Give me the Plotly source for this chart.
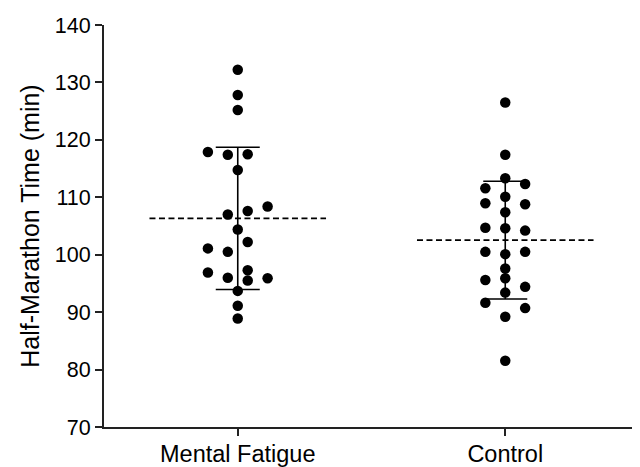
import numpy as np
import plotly.graph_objects as go

categories = ["Mental Fatigue", "Control"]

mental_fatigue = [132.2, 127.8, 125.2, 117.9, 117.4, 117.5, 114.75, 108.4, 107.6, 107.0,
                  104.4, 102.2, 101.1, 100.5, 96.9, 96.0, 97.3, 95.5, 95.9, 93.7, 91.1, 88.9]
# beeswarm column slot of each point (units of one dot step)
mental_fatigue_slot = [0, 0, 0, -3, -1, 1, 0, 3, 1, -1,
                       0, 1, -3, -1, -3, -1, 1, 1, 3, 0, 0, 0]

control = [126.5, 117.4, 113.3, 112.3, 111.56, 110.1, 108.95, 108.8, 107.4, 104.7, 104.6, 104.2,
           100.5, 100.1, 100.5, 97.6, 95.9, 95.6, 94.4, 93.4, 91.65, 90.7, 89.2, 81.55]
control_slot = [0, 0, 0, 2, -2, 0, -2, 2, 0, -2, 0, 2,
                -2, 0, 2, 0, 0, -2, 2, 0, -2, 2, 0, 0]

y_ticks = [70, 80, 90, 100, 110, 120, 130, 140]

groups = [mental_fatigue, control]
slots = [mental_fatigue_slot, control_slot]

STEP = 0.0372      # dot step in x-axis units
MEAN_HALF = 0.33   # half-width of dashed mean line
FONT = "Liberation Sans, Arial, sans-serif"

fig = go.Figure()

means = [float(np.mean(g)) for g in groups]
sds = [float(np.std(g, ddof=1)) for g in groups]

# dashed mean lines
for i, m in enumerate(means):
    fig.add_trace(go.Scatter(
        x=[i - MEAN_HALF, i + MEAN_HALF], y=[m, m], mode="lines",
        line=dict(color="black", width=1.6, dash="6px,3.5px"),
        hoverinfo="skip", showlegend=False))

# SD error bars
fig.add_trace(go.Scatter(
    x=list(range(len(categories))), y=means, mode="markers",
    marker=dict(size=1, color="rgba(0,0,0,0)"),
    error_y=dict(type="data", array=sds, symmetric=True, width=22,
                 thickness=1.6, color="black"),
    showlegend=False))

# dots
for i, (g, s) in enumerate(zip(groups, slots)):
    fig.add_trace(go.Scatter(
        x=[i + k * STEP for k in s], y=g, mode="markers",
        marker=dict(size=10.5, color="black", line=dict(width=0)),
        name=categories[i], showlegend=False))

# page body adds an 8px margin, so the figure is sized/offset to compensate
fig.update_layout(
    width=632, height=459,
    margin=dict(l=96, r=1, t=17, b=40, autoexpand=False),
    paper_bgcolor="white", plot_bgcolor="white",
    font=dict(family=FONT, color="black"),
    xaxis=dict(range=[-0.5, 1.5], tickvals=[0, 1], ticktext=categories,
               automargin=False, ticklabelstandoff=-2,
               showgrid=False, zeroline=False, showline=True, linecolor="#222",
               linewidth=2, ticks="outside", ticklen=7, tickwidth=1.5, tickcolor="#222",
               tickfont=dict(size=23.5, family=FONT, color="black")),
    yaxis=dict(range=[70, 140], tickvals=y_ticks, showgrid=False, zeroline=False,
               automargin=False,
               showline=True, linecolor="#222", linewidth=2, ticks="outside",
               ticklen=7, tickwidth=1.5, tickcolor="#222",
               tickfont=dict(size=21.5, family=FONT, color="black"),
               title=dict(text="Half-Marathon Time (min)", standoff=8,
                          font=dict(size=25, family=FONT, color="black"))),
)

fig.write_html("out.html")
